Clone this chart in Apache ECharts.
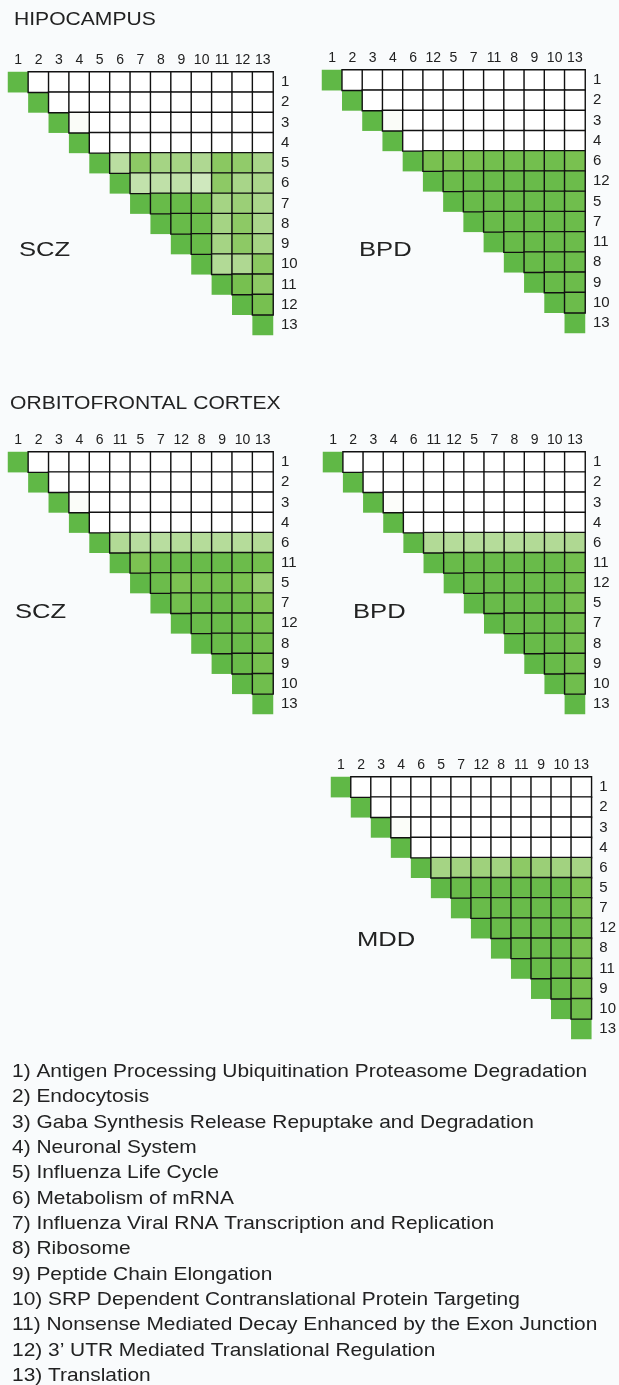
<!DOCTYPE html>
<html>
<head>
<meta charset="utf-8">
<script src="https://cdn.jsdelivr.net/npm/echarts@6/dist/echarts.min.js"></script>
<style>
  html, body { margin: 0; padding: 0; background: #f9fbfc; }
  #chart { width: 619px; height: 1385px; }
</style>
</head>
<body>
<div id="chart"></div>
<script>
// pathway legend
var pathways = [
  '1) Antigen Processing Ubiquitination Proteasome Degradation',
  '2) Endocytosis',
  '3) Gaba Synthesis Release Repuptake and Degradation',
  '4) Neuronal System',
  '5) Influenza Life Cycle',
  '6) Metabolism of mRNA',
  '7) Influenza Viral RNA Transcription and Replication',
  '8) Ribosome',
  '9) Peptide Chain Elongation',
  '10) SRP Dependent Contranslational Protein Targeting',
  '11) Nonsense Mediated Decay Enhanced by the Exon Junction',
  "12) 3’ UTR Mediated Translational Regulation",
  '13) Translation'
];

// pathway order for each matrix
var hipSczOrder = ['1','2','3','4','5','6','7','8','9','10','11','12','13'];
var hipBpdOrder = ['1','2','3','4','6','12','5','7','11','8','9','10','13'];
var ofcSczOrder = ['1','2','3','4','6','11','5','7','12','8','9','10','13'];
var ofcBpdOrder = ['1','2','3','4','6','11','12','5','7','8','9','10','13'];
var ofcMddOrder = ['1','2','3','4','6','5','7','12','8','11','9','10','13'];

// upper triangle overlap, row i holds the cells right of the diagonal
var hipScz = [
  [0,0,0,0,0,0,0,0,0,0,0,0],
  [0,0,0,0,0,0,0,0,0,0,0],
  [0.06,0,0,0,0,0,0,0,0,0],
  [0,0,0,0,0,0,0,0,0],
  [0.45,0.72,0.58,0.58,0.52,0.74,0.7,0.56],
  [0.4,0.42,0.42,0.34,0.72,0.56,0.55],
  [0.95,0.95,0.9,0.58,0.64,0.55],
  [0.95,0.93,0.58,0.72,0.55],
  [0.95,0.58,0.72,0.58],
  [0.5,0.52,0.74],
  [0.85,0.72],
  [0.85],
  []
];
var hipBpd = [
  [0,0,0,0,0,0,0,0,0,0,0,0],
  [0,0,0,0,0,0,0,0,0,0,0],
  [0.06,0,0,0,0,0,0,0,0,0],
  [0,0,0,0,0,0,0,0,0],
  [0.84,0.82,0.84,0.88,0.88,0.88,0.9,0.84],
  [0.92,0.94,0.94,0.94,0.94,0.94,0.92],
  [0.94,0.94,0.94,0.94,0.94,0.9],
  [0.94,0.95,0.95,0.94,0.92],
  [0.95,0.95,0.94,0.92],
  [0.95,0.95,0.92],
  [0.95,0.92],
  [0.92],
  []
];
var ofcScz = [
  [0,0,0,0,0,0,0,0,0,0,0,0],
  [0,0,0,0,0,0,0,0,0,0,0],
  [0.05,0,0,0,0,0,0,0,0,0],
  [0,0,0,0,0,0,0,0,0],
  [0.5,0.46,0.46,0.48,0.48,0.48,0.48,0.5],
  [0.82,0.92,0.94,0.94,0.94,0.92,0.88],
  [0.92,0.82,0.86,0.88,0.84,0.66],
  [0.88,0.92,0.92,0.9,0.8],
  [0.94,0.94,0.92,0.86],
  [0.94,0.94,0.88],
  [0.94,0.86],
  [0.9],
  []
];
var ofcBpd = [
  [0,0,0,0,0,0,0,0,0,0,0,0],
  [0,0,0,0,0,0,0,0,0,0,0],
  [0.04,0,0,0,0,0,0,0,0,0],
  [0,0,0,0,0,0,0,0,0],
  [0.5,0.48,0.48,0.48,0.48,0.5,0.5,0.52],
  [0.94,0.94,0.94,0.94,0.94,0.94,0.88],
  [0.94,0.94,0.94,0.94,0.94,0.88],
  [0.94,0.94,0.94,0.94,0.86],
  [0.94,0.94,0.94,0.88],
  [0.95,0.94,0.88],
  [0.95,0.88],
  [0.9],
  []
];
var ofcMdd = [
  [0,0,0,0,0,0,0,0,0,0,0,0],
  [0,0,0,0,0,0,0,0,0,0,0],
  [0.05,0,0,0,0,0,0,0,0,0],
  [0,0,0,0,0,0,0,0,0],
  [0.58,0.6,0.62,0.6,0.72,0.64,0.6,0.58],
  [0.94,0.94,0.94,0.94,0.94,0.94,0.82],
  [0.94,0.94,0.94,0.94,0.94,0.82],
  [0.94,0.94,0.94,0.94,0.88],
  [0.94,0.94,0.94,0.84],
  [0.95,0.94,0.86],
  [0.95,0.86],
  [0.9],
  []
];

var panels = [
  {order: hipSczOrder, cells: hipScz, name: 'SCZ', grid: {left: 8, top: 72, width: 265, height: 263}, nameAt: [19, 250]},
  {order: hipBpdOrder, cells: hipBpd, name: 'BPD', grid: {left: 322, top: 70, width: 263, height: 263}, nameAt: [359, 250]},
  {order: ofcSczOrder, cells: ofcScz, name: 'SCZ', grid: {left: 8, top: 452, width: 265, height: 262}, nameAt: [15, 612]},
  {order: ofcBpdOrder, cells: ofcBpd, name: 'BPD', grid: {left: 323, top: 452, width: 262, height: 262}, nameAt: [353, 612]},
  {order: ofcMddOrder, cells: ofcMdd, name: 'MDD', grid: {left: 331, top: 777, width: 263, height: 262}, nameAt: [357, 940]}
];

var FONT = '"Liberation Sans", Arial, Helvetica, sans-serif';

// wide text helper (the source lettering is a touch wider than Liberation Sans)
function label(text, x, y, size, sx) {
  return {
    type: 'text', x: x, y: y, scaleX: sx, silent: true,
    style: {text: text, font: size + 'px ' + FONT, fill: '#222', verticalAlign: 'middle', align: 'left'}
  };
}

var grids = [], xAxes = [], yAxes = [], series = [];
var texts = [
  label('HIPOCAMPUS', 14, 20, 18.5, 1.14),
  label('ORBITOFRONTAL CORTEX', 10, 404, 18.5, 1.14)
];
pathways.forEach(function (t, n) {
  texts.push(label(t, 12, 1072 + n * 25.33, 18.5, 1.13));
});

panels.forEach(function (p, k) {
  grids.push(p.grid);
  xAxes.push({
    type: 'category', gridIndex: k, data: p.order, position: 'top',
    axisLine: {show: false}, axisTick: {show: false}, splitLine: {show: false},
    axisLabel: {fontFamily: FONT, fontSize: 14, color: '#222', margin: 5, interval: 0}
  });
  yAxes.push({
    type: 'category', gridIndex: k, data: p.order, position: 'right', inverse: true,
    axisLine: {show: false}, axisTick: {show: false}, splitLine: {show: false},
    axisLabel: {fontFamily: FONT, fontSize: 15, color: '#222', margin: 8, interval: 0, align: 'left'}
  });
  var diag = [], pairs = [];
  for (var i = 0; i < p.order.length; i++) {
    diag.push([i, i, 1]);
    p.cells[i].forEach(function (v, n) {
      pairs.push([i + 1 + n, i, v]);
    });
  }
  series.push({
    type: 'heatmap', xAxisIndex: k, yAxisIndex: k, data: diag,
    itemStyle: {borderWidth: 0}, emphasis: {disabled: true}
  });
  series.push({
    type: 'heatmap', xAxisIndex: k, yAxisIndex: k, data: pairs,
    itemStyle: {borderColor: '#111', borderWidth: 1.4}, emphasis: {disabled: true}
  });
  texts.push(label(p.name, p.nameAt[0], p.nameAt[1], 20, 1.28));
});

var myChart = echarts.init(document.getElementById('chart'));
myChart.setOption({
  backgroundColor: '#f9fbfc',
  animation: false,
  graphic: texts,
  grid: grids,
  xAxis: xAxes,
  yAxis: yAxes,
  visualMap: {
    type: 'continuous', show: false, min: 0, max: 1, dimension: 2,
    inRange: {color: ['#ffffff', '#eef6e8', '#c2e2ac', '#a2d280', '#7fc353', '#60b846']}
  },
  series: series
});
</script>
</body>
</html>
